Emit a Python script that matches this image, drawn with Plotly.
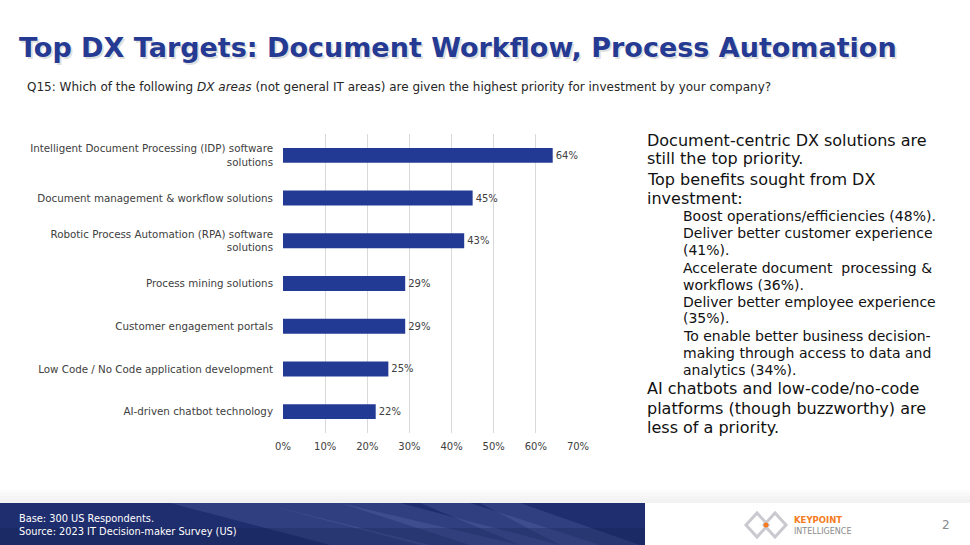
import plotly.graph_objects as go

categories = [
    "Intelligent Document Processing (IDP) software<br>solutions",
    "Document management & workflow solutions",
    "Robotic Process Automation (RPA) software<br>solutions",
    "Process mining solutions",
    "Customer engagement portals",
    "Low Code / No Code application development",
    "AI-driven chatbot technology",
]
values = [64, 45, 43, 29, 29, 25, 22]
value_labels = ["64%", "45%", "43%", "29%", "29%", "25%", "22%"]
x_ticks = [0, 10, 20, 30, 40, 50, 60, 70]
x_tick_labels = ["0%", "10%", "20%", "30%", "40%", "50%", "60%", "70%"]

title_text = "Top DX Targets: Document Workflow, Process Automation"
subtitle_text = ("Q15: Which of the following <i>DX areas</i> (not general IT areas) are given "
                 "the highest priority for investment by your company?")
main_lines_a = ["Document-centric DX solutions are", "still the top priority.",
                "Top benefits sought from DX", "investment:"]
sub_lines = ["Boost operations/efficiencies (48%).", "Deliver better customer experience",
             "(41%).", "Accelerate document  processing &", "workflows (36%).",
             "Deliver better employee experience", "(35%).",
             "To enable better business decision-", "making through access to data and",
             "analytics (34%)."]
main_lines_b = ["AI chatbots and low-code/no-code", "platforms (though buzzworthy) are",
                "less of a priority."]
footer_lines = ["Base: 300 US Respondents.", "Source: 2023 IT Decision-maker Survey (US)"]

W, H = 970, 545
L, R, T, B = 283, 392, 134, 112
PW, PH = W - L - R, H - T - B
FONT = "DejaVu Sans"
BLUE = "#233a94"
GREY_TXT = "#404040"


def px(x):
    return (x - L) / PW


def py(y):
    return 1 - (y - T) / PH


fig = go.Figure()
fig.add_trace(go.Bar(
    x=values, y=categories, orientation="h",
    marker=dict(color=BLUE, line=dict(width=0)),
    width=0.35,
    text=value_labels, textposition="outside",
    textfont=dict(family=FONT, size=10, color=GREY_TXT),
    cliponaxis=False, hoverinfo="skip",
))

shapes = []
# footer shadow
for i, c in enumerate(["#fbfbfb", "#f8f8f8", "#f5f5f5", "#f2f2f2"]):
    shapes.append(dict(type="rect", xref="paper", yref="paper",
                       x0=px(0), x1=px(W), y0=py(503), y1=py(490 + i * 3),
                       fillcolor=c, line=dict(width=0), layer="below"))
# footer band
shapes.append(dict(type="rect", xref="paper", yref="paper",
                   x0=px(0), x1=px(645), y0=py(545), y1=py(503),
                   fillcolor="#1f2e6e", line=dict(width=0), layer="below"))
# lighter diagonal streaks
streaks = [(170, 260, 330, 430), (260, 340, 420, 520), (340, 400, 470, 560), (420, 470, 520, 600),
           (480, 520, 560, 640)]
for a, b, c, d in streaks:
    shapes.append(dict(type="path", xref="paper", yref="paper",
                       path=f"M {px(a)},{py(503)} L {px(b)},{py(503)} L {px(d)},{py(545)} L {px(c)},{py(545)} Z",
                       fillcolor="#6c7fc0", opacity=0.22, line=dict(width=0), layer="below"))
shapes.append(dict(type="rect", xref="paper", yref="paper",
                   x0=px(0), x1=px(645), y0=py(545), y1=py(528),
                   fillcolor="#0f1a4a", opacity=0.25, line=dict(width=0), layer="below"))
# logo diamonds
for cx in (757, 775):
    shapes.append(dict(type="path", xref="paper", yref="paper",
                       path=f"M {px(cx-11)},{py(525)} L {px(cx)},{py(513)} L {px(cx+11)},{py(525)} L {px(cx)},{py(537)} Z",
                       fillcolor="rgba(0,0,0,0)", line=dict(color="#c9c9cf", width=3)))
shapes.append(dict(type="circle", xref="paper", yref="paper",
                   x0=px(763.5), x1=px(768.5), y0=py(527.5), y1=py(522.5),
                   fillcolor="#f47b20", line=dict(width=0)))

ann = []
# title shadow + title
ann.append(dict(text=f"<b>{title_text}</b>", x=px(18.5), y=py(49.5), xref="paper", yref="paper",
                xanchor="left", yanchor="middle", showarrow=False,
                font=dict(family=FONT, size=27, color="rgba(0,0,0,0.13)")))
ann.append(dict(text=f"<b>{title_text}</b>", x=px(17), y=py(48), xref="paper", yref="paper",
                xanchor="left", yanchor="middle", showarrow=False,
                font=dict(family=FONT, size=27, color="#253a93")))
ann.append(dict(text=subtitle_text, x=px(25), y=py(87), xref="paper", yref="paper",
                xanchor="left", yanchor="middle", showarrow=False,
                font=dict(family=FONT, size=12, color="#262626")))

main_y_a = [140, 159, 179, 198]
sub_y = [216, 233, 250, 268, 285, 302, 318, 336, 353, 370]
main_y_b = [388, 408, 427]
for t, y in zip(main_lines_a, main_y_a):
    ann.append(dict(text=t, x=px(645), y=py(y), xref="paper", yref="paper", xanchor="left",
                    yanchor="middle", showarrow=False, font=dict(family=FONT, size=16, color="#111111")))
for t, y in zip(sub_lines, sub_y):
    ann.append(dict(text=t, x=px(681), y=py(y), xref="paper", yref="paper", xanchor="left",
                    yanchor="middle", showarrow=False, font=dict(family=FONT, size=14, color="#111111")))
for t, y in zip(main_lines_b, main_y_b):
    ann.append(dict(text=t, x=px(645), y=py(y), xref="paper", yref="paper", xanchor="left",
                    yanchor="middle", showarrow=False, font=dict(family=FONT, size=16, color="#111111")))

for t, y in zip(footer_lines, [518, 531]):
    ann.append(dict(text=t, x=px(17), y=py(y), xref="paper", yref="paper", xanchor="left",
                    yanchor="middle", showarrow=False, font=dict(family=FONT, size=9.8, color="#ffffff")))

ann.append(dict(text="<b>KEYPOINT</b>", x=px(792), y=py(520), xref="paper", yref="paper", xanchor="left",
                yanchor="middle", showarrow=False, font=dict(family=FONT, size=8.5, color="#f47b20")))
ann.append(dict(text="INTELLIGENCE", x=px(792), y=py(531), xref="paper", yref="paper", xanchor="left",
                yanchor="middle", showarrow=False, font=dict(family=FONT, size=8, color="#8a8a8a")))
ann.append(dict(text="2", x=px(946), y=py(525), xref="paper", yref="paper", xanchor="center",
                yanchor="middle", showarrow=False, font=dict(family=FONT, size=12, color="#8a8a8a")))

fig.update_layout(
    width=W, height=H,
    margin=dict(l=L, r=R, t=T, b=B, pad=0),
    paper_bgcolor="white", plot_bgcolor="white",
    showlegend=False,
    font=dict(family=FONT, size=10, color=GREY_TXT),
    xaxis=dict(range=[0, 70], tickvals=x_ticks, ticktext=x_tick_labels,
               showgrid=True, gridcolor="#d9d9d9", gridwidth=1,
               zeroline=False, showline=False, ticks="", fixedrange=True,
               ticklabelstandoff=6,
               tickfont=dict(family=FONT, size=10, color=GREY_TXT)),
    yaxis=dict(autorange="reversed", showgrid=False, zeroline=False, showline=False,
               ticks="", ticklabelstandoff=9, fixedrange=True,
               tickfont=dict(family=FONT, size=10.3, color=GREY_TXT)),
    shapes=shapes, annotations=ann,
)

fig.write_html("out.html", config={"displayModeBar": False},
               post_script="document.body.style.margin='0';document.body.style.overflow='hidden';")
